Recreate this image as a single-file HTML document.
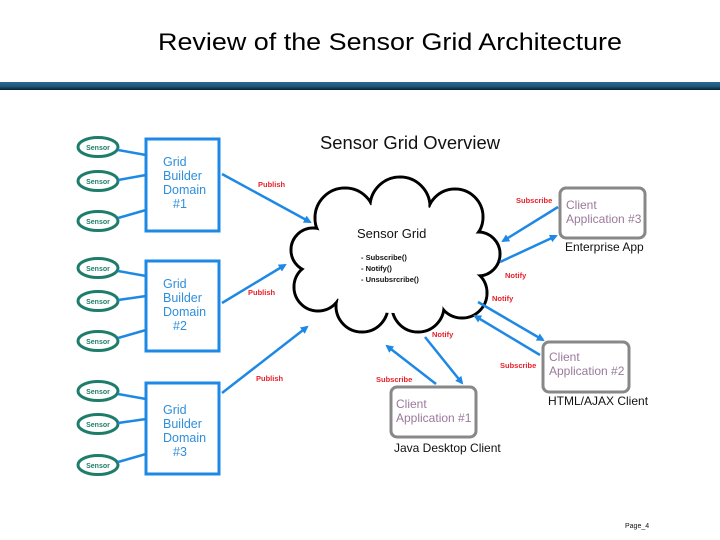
<!DOCTYPE html>
<html><head><meta charset="utf-8"><style>
html,body{margin:0;padding:0;background:#fff;}
svg{display:block;font-family:"Liberation Sans",sans-serif;}
</style></head><body>
<svg width="720" height="540" viewBox="0 0 720 540">
<defs>
<linearGradient id="bar" x1="0" y1="0" x2="0" y2="1">
<stop offset="0" stop-color="#2a6a94"/><stop offset="0.5" stop-color="#1f5a80"/><stop offset="1" stop-color="#06202e"/>
</linearGradient>
<marker id="ah" markerWidth="8" markerHeight="8" refX="6" refY="4" orient="auto" markerUnits="userSpaceOnUse" viewBox="0 0 8 8">
<path d="M0,0 L8,4 L0,8 z" fill="#1e88e5"/>
</marker>
</defs>
<text x="390" y="50" font-size="24" text-anchor="middle" fill="#000" textLength="464" lengthAdjust="spacingAndGlyphs">Review of the Sensor Grid Architecture</text>
<rect x="0" y="82" width="720" height="8" fill="url(#bar)"/>
<text x="410" y="149" font-size="18" text-anchor="middle" fill="#111" textLength="180" lengthAdjust="spacingAndGlyphs">Sensor Grid Overview</text>

<g fill="#fff" stroke="#1e7d6a" stroke-width="3">
<ellipse cx="98" cy="147" rx="20" ry="9.5"/><ellipse cx="98" cy="181" rx="20" ry="9.5"/><ellipse cx="98" cy="221" rx="20" ry="9.5"/>
<ellipse cx="98" cy="268" rx="20" ry="9.5"/><ellipse cx="98" cy="301" rx="20" ry="9.5"/><ellipse cx="98" cy="341" rx="20" ry="9.5"/>
<ellipse cx="98" cy="391" rx="20" ry="9.5"/><ellipse cx="98" cy="424" rx="20" ry="9.5"/><ellipse cx="98" cy="465" rx="20" ry="9.5"/>
</g>
<g font-size="7" font-weight="bold" fill="#1e7d6a" text-anchor="middle">
<text x="98" y="150">Sensor</text><text x="98" y="184">Sensor</text><text x="98" y="224">Sensor</text>
<text x="98" y="271">Sensor</text><text x="98" y="304">Sensor</text><text x="98" y="344">Sensor</text>
<text x="98" y="394">Sensor</text><text x="98" y="427">Sensor</text><text x="98" y="468">Sensor</text>
</g>
<g stroke="#1e88e5" stroke-width="2.5">
<line x1="118" y1="150" x2="146" y2="155"/><line x1="118" y1="180" x2="146" y2="175"/><line x1="118" y1="218" x2="146" y2="210"/>
<line x1="118" y1="271" x2="146" y2="276"/><line x1="118" y1="300" x2="146" y2="296"/><line x1="118" y1="338" x2="146" y2="330"/>
<line x1="118" y1="394" x2="146" y2="399"/><line x1="118" y1="423" x2="146" y2="419"/><line x1="118" y1="462" x2="146" y2="454"/>
</g>
<g fill="#fff" stroke="#1e88e5" stroke-width="3">
<rect x="146" y="139" width="73" height="92"/><rect x="146" y="261" width="73" height="90"/><rect x="146" y="383" width="73" height="91"/>
</g>
<g font-size="12.5" fill="#2f8fdc">
<text x="163" y="166">Grid</text><text x="163" y="180">Builder</text><text x="163" y="194">Domain</text><text x="173" y="208">#1</text>
<text x="163" y="288">Grid</text><text x="163" y="302">Builder</text><text x="163" y="316">Domain</text><text x="173" y="330">#2</text>
<text x="163" y="414">Grid</text><text x="163" y="428">Builder</text><text x="163" y="442">Domain</text><text x="173" y="456">#3</text>
</g>

<!-- cloud -->
<g stroke="#000" stroke-width="3" fill="#fff">
<circle cx="345" cy="218" r="30"/><circle cx="400" cy="207" r="30"/><circle cx="455" cy="217" r="28"/>
<circle cx="478" cy="254" r="22"/><circle cx="462" cy="293" r="25"/><circle cx="418" cy="306" r="26"/>
<circle cx="362" cy="306" r="26"/><circle cx="318" cy="287" r="24"/><circle cx="313" cy="250" r="22"/>
</g>
<g fill="#fff">
<circle cx="345" cy="218" r="28.5"/><circle cx="400" cy="207" r="28.5"/><circle cx="455" cy="217" r="26.5"/>
<circle cx="478" cy="254" r="20.5"/><circle cx="462" cy="293" r="23.5"/><circle cx="418" cy="306" r="24.5"/>
<circle cx="362" cy="306" r="24.5"/><circle cx="318" cy="287" r="22.5"/><circle cx="313" cy="250" r="20.5"/>
<ellipse cx="395" cy="258" rx="85" ry="55"/>
</g>
<text x="357" y="238" font-size="13" fill="#111">Sensor Grid</text>
<g font-size="7.5" font-weight="bold" fill="#111">
<text x="361" y="260">- Subscribe()</text><text x="361" y="271">- Notify()</text><text x="361" y="282">- Unsubsrcribe()</text>
</g>

<g fill="#fff" stroke="#888" stroke-width="3">
<rect x="560" y="188" width="85" height="50" rx="6"/><rect x="543" y="342" width="86" height="50" rx="6"/><rect x="391" y="387" width="85" height="50" rx="6"/>
</g>
<g font-size="12" fill="#9a7a9a">
<text x="566" y="209">Client</text><text x="566" y="223">Application #3</text>
<text x="549" y="361">Client</text><text x="549" y="375">Application #2</text>
<text x="396" y="408">Client</text><text x="396" y="422">Application #1</text>
</g>
<g font-size="12" fill="#111">
<text x="565" y="251">Enterprise App</text><text x="548" y="405">HTML/AJAX Client</text><text x="394" y="452">Java Desktop Client</text>
</g>

<g stroke="#1e88e5" stroke-width="2.5" marker-end="url(#ah)">
<line x1="222" y1="174" x2="310" y2="222"/><line x1="222" y1="303" x2="285" y2="265"/><line x1="222" y1="393" x2="307" y2="327"/>
<line x1="558" y1="207" x2="503" y2="241"/><line x1="500" y1="262" x2="556" y2="236"/>
<line x1="478" y1="302" x2="543" y2="340"/><line x1="540" y1="355" x2="475" y2="316"/>
<line x1="436" y1="384" x2="387" y2="346"/><line x1="425" y1="337" x2="462" y2="383"/>
</g>
<g font-size="7.5" font-weight="bold" fill="#e8202a">
<text x="258" y="187">Publish</text><text x="248" y="295">Publish</text><text x="256" y="381">Publish</text>
<text x="516" y="203">Subscribe</text><text x="500" y="368">Subscribe</text><text x="376" y="382">Subscribe</text>
<text x="505" y="278">Notify</text><text x="492" y="301">Notify</text><text x="432" y="337">Notify</text>
</g>
<text x="625" y="528" font-size="7" fill="#111">Page_4</text>
</svg>
</body></html>
